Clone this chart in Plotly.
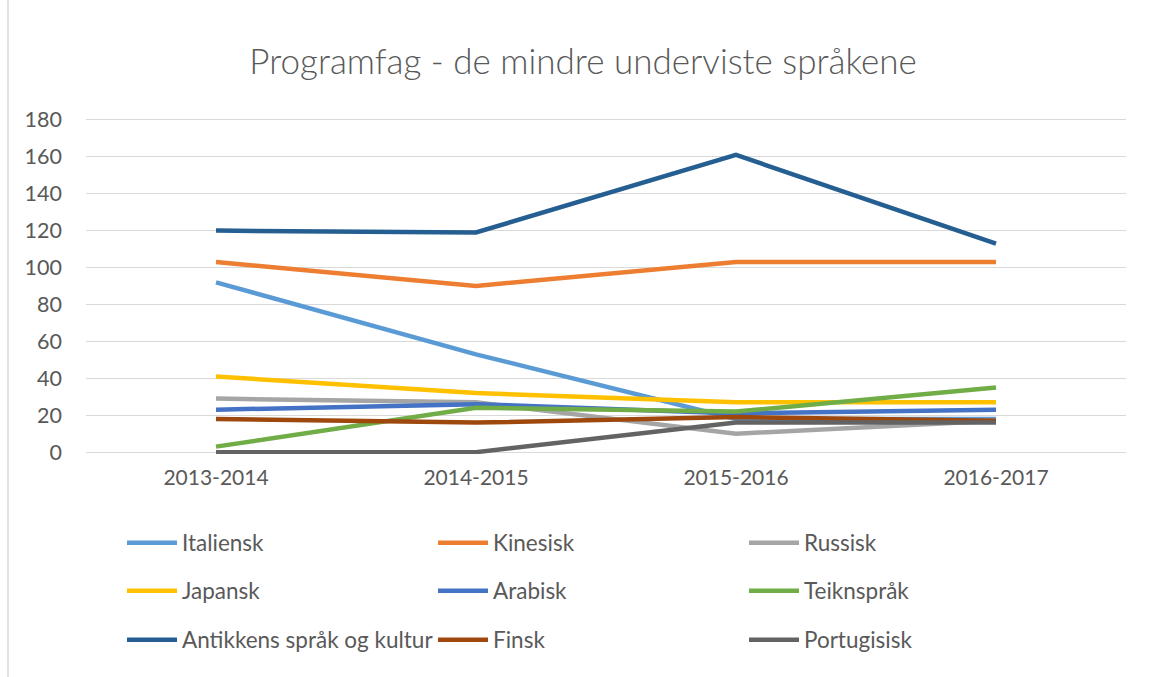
import plotly.graph_objects as go

years = ["2013-2014", "2014-2015", "2015-2016", "2016-2017"]

italiensk = [92, 53, 18, 18]
kinesisk = [103, 90, 103, 103]
russisk = [29, 27, 10, 17]
japansk = [41, 32, 27, 27]
arabisk = [23, 26, 21, 23]
teiknsprak = [3, 24, 22, 35]
antikkens = [120, 119, 161, 113]
finsk = [18, 16, 19, 17]
portugisisk = [0, 0, 16, 16]

series = [
    ("Italiensk", italiensk, "#5B9BD5", "legend"),
    ("Kinesisk", kinesisk, "#ED7D31", "legend"),
    ("Russisk", russisk, "#A5A5A5", "legend"),
    ("Japansk", japansk, "#FFC000", "legend2"),
    ("Arabisk", arabisk, "#4472C4", "legend2"),
    ("Teiknspråk", teiknsprak, "#70AD47", "legend2"),
    ("Antikkens språk og kultur", antikkens, "#255E91", "legend3"),
    ("Finsk", finsk, "#9E480E", "legend3"),
    ("Portugisisk", portugisisk, "#636363", "legend3"),
]

fig = go.Figure()
for name, vals, color, lg in series:
    fig.add_trace(go.Scatter(
        x=years, y=vals, name=name, mode="lines",
        line=dict(color=color, width=4.5),
        legend=lg,
    ))

FONT = "Lato, 'Open Sans', sans-serif"
TXT = "#595959"

# plot area in pixels: top 118, bottom 454 (height 336), left 86, right 1126
def py(p):
    return (454 - p) / 336.0

def px(p):
    return (p - 86) / 1040.0

leg_common = dict(
    orientation="h", entrywidth=246, entrywidthmode="pixels",
    font=dict(family=FONT, size=22.5, color=TXT),
    bgcolor="rgba(0,0,0,0)", xanchor="left", yanchor="middle",
    itemwidth=50, x=px(122),
)

fig.update_layout(
    width=1150, height=677,
    margin=dict(l=86, r=24, t=118, b=223, autoexpand=False),
    paper_bgcolor="white", plot_bgcolor="white",
    title=dict(
        text="Programfag - de mindre underviste språkene",
        font=dict(family="'Lato Light', Lato, sans-serif", size=35, color=TXT, weight=300),
        x=583 / 1150, xanchor="center", y=1 - 62 / 677, yanchor="middle",
    ),
    legend=dict(**leg_common, y=py(543)),
    legend2=dict(**leg_common, y=py(591)),
    legend3=dict(**leg_common, y=py(640)),
    xaxis=dict(
        type="category", range=[-0.5, 3.5], showgrid=False, zeroline=False,
        showline=False,
        tickfont=dict(family=FONT, size=21, color=TXT), ticks="",
        ticklabelstandoff=9,
    ),
    yaxis=dict(
        range=[-1, 181], tickvals=list(range(0, 181, 20)),
        showgrid=True, gridcolor="#D9D9D9", gridwidth=1, zeroline=False,
        showline=False,
        tickfont=dict(family=FONT, size=21.5, color=TXT), ticks="",
        ticklabelstandoff=23,
    ),
    showlegend=True,
)

fig.add_shape(type="line", xref="paper", yref="paper",
              x0=px(8), x1=px(8), y0=py(0), y1=py(677),
              line=dict(color="#D9D9D9", width=1.5))

fig.write_html("out.html", config={"displayModeBar": False},
               post_script="document.body.style.margin='0';document.body.style.padding='0';")
